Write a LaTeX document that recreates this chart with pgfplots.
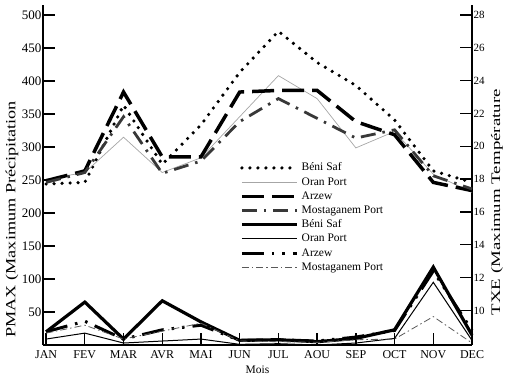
\documentclass[border=0pt]{standalone}
\usepackage{fontspec}
\setmainfont{Liberation Serif}
\usepackage{graphicx}
\usepackage{pgfplots}
\usepackage{pgfplotstable}
\pgfplotsset{compat=1.18}

% Maximum precipitation (mm) per month
\pgfplotstableread{
m  beni  oran  arzew  mosta
0  20    9     20     18
1  65    18    36     30
2  9     3     9      9
3  67    6     23     21
4  35    9     30     33
5  7     1     7      6
6  8     2     8      5
7  5     0     6      4
8  10    3     12     8
9  23    10    22     9
10 118   95    112    43
11 15    7     22     3
}\precip

% Maximum temperature per month
\pgfplotstableread{
m  beni  oran  arzew  mosta
0  17.7  18.0  17.9   17.8
1  17.8  18.4  18.5   18.4
2  22.5  20.55 23.3   21.8
3  18.9  18.4  19.35  18.35
4  21.3  19.3  19.35  19.1
5  24.5  21.8  23.3   21.5
6  27.0  24.3  23.4   22.9
7  25.1  22.9  23.4   21.7
8  23.7  19.9  21.5   20.5
9  21.6  20.9  20.7   21.0
10 18.5  18.3  17.8   18.2
11 17.8  17.2  17.3   17.4
}\temperature

\tikzset{
  tdot/.style={black, line width=3.6pt, line cap=round, dash pattern=on 0pt off 8pt},
  tthin/.style={gray!70, line width=0.7pt},
  tdash/.style={black, line width=3.5pt, dash pattern=on 22pt off 8pt},
  tdashdot/.style={black!78, line width=2.8pt, dash pattern=on 15pt off 7pt on 2.5pt off 7pt},
  psolid/.style={black, line width=3.2pt},
  pthin/.style={black, line width=1pt},
  pdashdotdot/.style={black, line width=3pt, dash pattern=on 22pt off 8pt on 2.5pt off 8pt on 2.5pt off 8pt},
  pdashdot/.style={black!65, line width=0.8pt, dash pattern=on 7pt off 3pt on 1.5pt off 3pt},
}

\begin{document}
\begin{tikzpicture}[x=1pt,y=1pt]
\path[use as bounding box] (-43,-38) rectangle (467,345);
\pgfplotsset{
  every axis/.append style={
    scale only axis, width=429pt, height=340pt,
    xmin=-0.08, xmax=11,
    tick align=inside, major tick length=12pt,
    every tick/.style={black, line width=1.3pt},
    axis line style={line width=1.5pt},
    /pgf/number format/assume math mode=true,
    clip=false,
  }
}
\begin{axis}[
  axis y line*=left, axis x line*=bottom,
  ymin=0, ymax=515,
  ytick={50,100,...,500},
  xtick={0,...,11},
  xticklabels={JAN,FEV,MAR,AVR,MAI,JUN,JUL,AOU,SEP,OCT,NOV,DEC},
  x tick label style={font=\fontsize{12}{12}\selectfont, yshift=-2pt},
  y tick label style={font=\fontsize{13}{13}\selectfont, xshift=2pt},
  xlabel={Mois},
  xlabel style={font=\fontsize{11.5}{11.5}\selectfont, yshift=0pt},
  ylabel={\scalebox{1.3}[1]{PMAX (Maximum Précipitation}},
  every axis y label/.style={font=\fontsize{14}{14}\selectfont,
    at={(axis description cs:-0.072,0.37)}, anchor=center, rotate=90},
]
\addplot[psolid] table[x=m,y=beni]{\precip};
\addplot[pthin] table[x=m,y=oran]{\precip};
\addplot[pdashdotdot] table[x=m,y=arzew]{\precip};
\addplot[pdashdot] table[x=m,y=mosta]{\precip};
\end{axis}

\begin{axis}[
  axis y line*=right, axis x line=none,
  ymin=7.9, ymax=28.6,
  ytick={10,12,...,28},
  y tick label style={font=\fontsize{11}{11}\selectfont, xshift=-2pt},
  ylabel={\scalebox{1.45}[1]{TXE (Maximum Température}},
  every axis y label/.style={font=\fontsize{13}{13}\selectfont,
    at={(axis description cs:1.058,0.42)}, anchor=center, rotate=90},
  legend cell align=left,
  legend image code/.code={\draw[#1] (0pt,0pt) -- (55pt,0pt);},
  legend style={at={(axis description cs:0.452,0.545)}, anchor=north west,
    draw=none, fill=none, font=\fontsize{11.5}{11.5}\selectfont,
    nodes={inner ysep=0pt, inner xsep=3pt, text height=9pt, text depth=3pt},
    row sep=2.2pt},
]
\addplot[tdot] table[x=m,y=beni]{\temperature};
\addplot[tthin] table[x=m,y=oran]{\temperature};
\addplot[tdash] table[x=m,y=arzew]{\temperature};
\addplot[tdashdot] table[x=m,y=mosta]{\temperature};
\addlegendimage{psolid}
\addlegendimage{pthin}
\addlegendimage{pdashdotdot}
\addlegendimage{pdashdot}
\legend{Béni Saf, Oran Port, Arzew, Mostaganem Port, Béni Saf, Oran Port, Arzew, Mostaganem Port}
\end{axis}
\end{tikzpicture}
\end{document}
